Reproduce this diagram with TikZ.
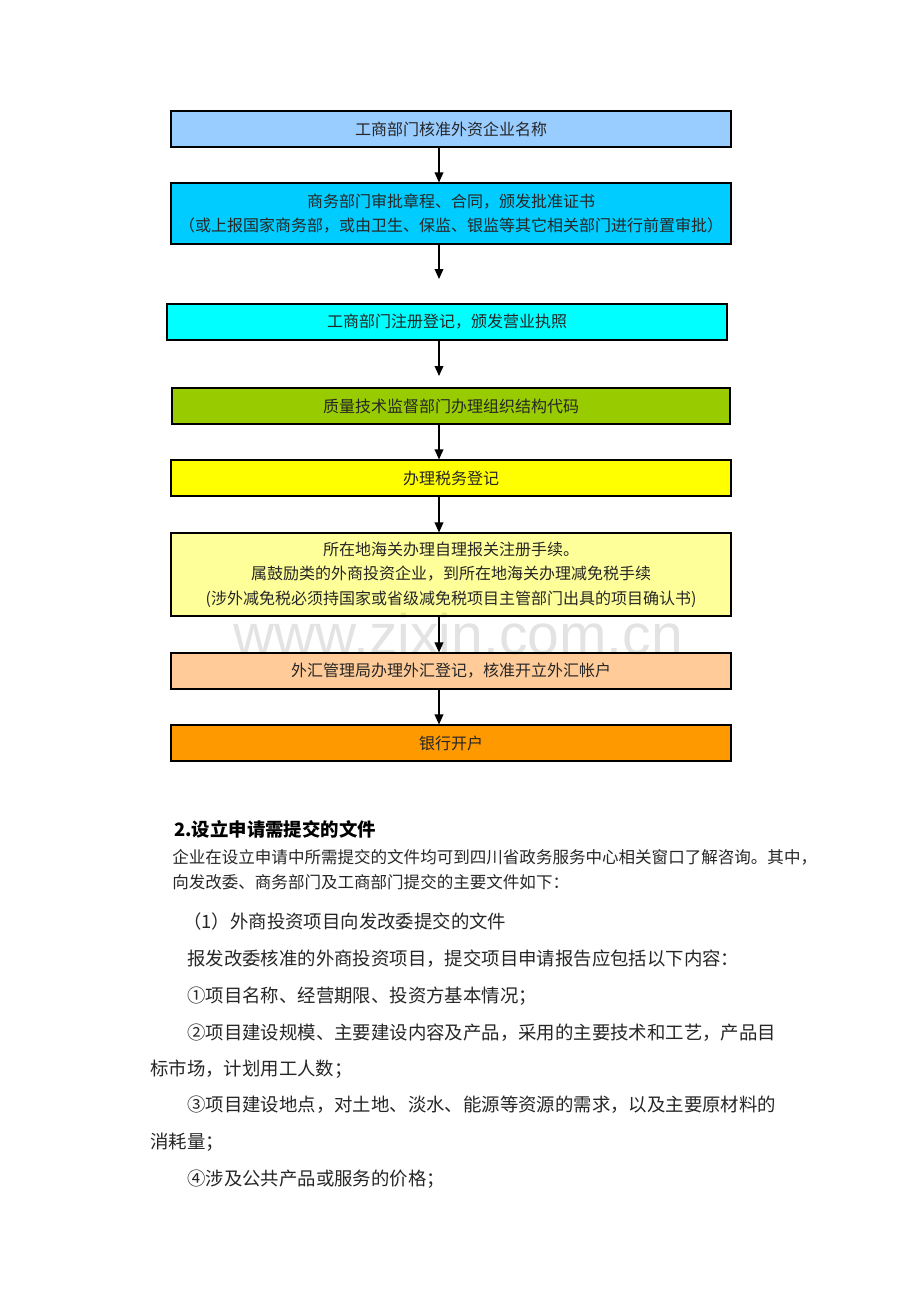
\documentclass[tikz,border=0pt]{standalone}
\usepackage{fontspec}
\setmainfont{Noto Sans CJK SC}
\newfontfamily\wmfont{Liberation Sans}
\usetikzlibrary{arrows.meta,shadows}
\definecolor{cA}{HTML}{99CCFF}
\definecolor{cB}{HTML}{00CCFF}
\definecolor{cC}{HTML}{00FFFF}
\definecolor{cD}{HTML}{99CC00}
\definecolor{cE}{HTML}{FFFF00}
\definecolor{cF}{HTML}{FFFF99}
\definecolor{cG}{HTML}{FFCC99}
\definecolor{cH}{HTML}{FF9900}
\definecolor{txt}{HTML}{262626}
\tikzset{
  flowbox/.style={draw=black, line width=0.8pt, minimum width=560*0.75pt, minimum height=36*0.75pt,
    inner sep=0pt, align=center, text=txt,
    font=\fontsize{12pt}{18.2pt}\selectfont,
    drop shadow={shadow xshift=0.9pt, shadow yshift=-0.9pt, fill=gray!55, opacity=1}},
  flowarrow/.style={draw=black, line width=1pt, -{Triangle[length=7.5pt,width=6.5pt]}},
  bodytext/.style={anchor=west, inner sep=0pt, text=txt, font=\fontsize{13.8pt}{16pt}\selectfont},
  paratext/.style={anchor=west, inner sep=0pt, text=txt, font=\fontsize{12.4pt}{14pt}\selectfont},
  headtext/.style={anchor=west, inner sep=0pt, text=black, font=\fontsize{13.8pt}{16pt}\bfseries\selectfont},
}
\begin{document}
\begin{tikzpicture}[x=0.75pt,y=-0.75pt]
\useasboundingbox[fill=white] (0,0) rectangle (920,1302);

\node[flowbox, fill=cA] (b1) at (451,129) {工商部门核准外资企业名称};
\node[flowbox, fill=cB, minimum height=61*0.75pt] (b2) at (451,213.5)
  {商务部门审批章程、合同，颁发批准证书\\（或上报国家商务部，或由卫生、保监、银监等其它相关部门进行前置审批）};
\node[flowbox, fill=cC] (b3) at (447,322) {工商部门注册登记，颁发营业执照};
\node[flowbox, fill=cD, minimum width=558*0.75pt] (b4) at (451,406) {质量技术监督部门办理组织结构代码};
\node[flowbox, fill=cE] (b5) at (451,478) {办理税务登记};
\node[flowbox, fill=cF, minimum height=83*0.75pt, font=\fontsize{12pt}{18.4pt}\selectfont] (b6) at (451,574.5)
  {所在地海关办理自理报关注册手续。\\属鼓励类的外商投资企业，到所在地海关办理减免税手续\\(涉外减免税必须持国家或省级减免税项目主管部门出具的项目确认书)};
\node[flowbox, fill=cG] (b7) at (451,671) {外汇管理局办理外汇登记，核准开立外汇帐户};
\node[flowbox, fill=cH] (b8) at (451,743) {银行开户};

\coordinate (ax) at (439,0);
\coordinate (e2) at (439,279);
\coordinate (e3) at (439,376);
\draw[flowarrow] (b1.south -| ax) -- (b2.north -| ax);
\draw[flowarrow] (b2.south -| ax) -- (e2);
\draw[flowarrow] (b3.south -| ax) -- (e3);
\draw[flowarrow] (b4.south -| ax) -- (b5.north -| ax);
\draw[flowarrow] (b5.south -| ax) -- (b6.north -| ax);
\draw[flowarrow] (b6.south -| ax) -- (b7.north -| ax);
\draw[flowarrow] (b7.south -| ax) -- (b8.north -| ax);

\node[headtext] (h) at (174,829) {2.设立申请需提交的文件};
\node[paratext] (p1) at (172,857) {企业在设立申请中所需提交的文件均可到四川省政务服务中心相关窗口了解咨询。其中，};
\node[paratext] (p2) at (172,882) {向发改委、商务部门及工商部门提交的主要文件如下：};
\node[bodytext] (s1) at (183,921) {（1）外商投资项目向发改委提交的文件};
\node[bodytext] (t0) at (187,959) {报发改委核准的外商投资项目，提交项目申请报告应包括以下内容：};
\node[bodytext] (t1) at (187,996) {①项目名称、经营期限、投资方基本情况；};
\node[bodytext] (t2) at (187,1033) {②项目建设规模、主要建设内容及产品，采用的主要技术和工艺，产品目};
\node[bodytext] (t2b) at (150,1069) {标市场，计划用工人数；};
\node[bodytext] (t3) at (187,1105) {③项目建设地点，对土地、淡水、能源等资源的需求，以及主要原材料的};
\node[bodytext] (t3b) at (150,1142) {消耗量；};
\node[bodytext] (t4) at (187,1179) {④涉及公共产品或服务的价格；};

\node[anchor=base, inner sep=0pt, text=black, text opacity=0.11,
  font=\wmfont\fontsize{42.75pt}{44pt}\selectfont] (wm) at (458,654) {www.zixin.com.cn};
\end{tikzpicture}
\end{document}
